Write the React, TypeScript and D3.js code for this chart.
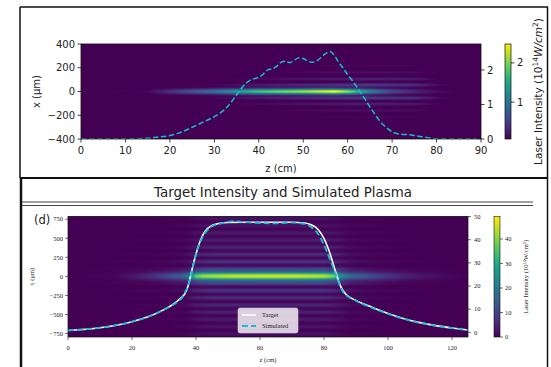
import React, { useEffect, useState } from "react";
import * as d3 from "d3";

const W = 551;
const H = 367;

// ---------- upper panel: laser intensity map with plasma profile ----------
const topZTicks = [0, 10, 20, 30, 40, 50, 60, 70, 80, 90];
const topXTicks = [-400, -200, 0, 200, 400];
const topXTickLabels = ["\u2212400", "\u2212200", "0", "200", "400"];
const topRightTicks = [0, 1, 2];
const topCbarTicks = [1, 2];

// plasma profile (right axis)
const topProfileZ = [0, 5, 10, 13, 15, 17, 20, 22, 25, 28, 30, 32, 33, 34, 35, 36, 37, 38, 40, 41, 42, 43, 44, 45, 46, 47, 48, 49, 50, 51, 52, 53, 54, 55, 56, 57, 58, 59, 60, 61, 62, 63, 64, 65, 66, 67, 68, 69, 70, 71, 72, 74, 75, 76, 78, 80, 85, 89];
const topProfileVal = [0, 0, 0, 0.01, 0.02, 0.05, 0.1, 0.17, 0.34, 0.52, 0.65, 0.82, 0.94, 1.1, 1.28, 1.45, 1.6, 1.7, 1.79, 1.88, 2.0, 2.03, 2.1, 2.22, 2.25, 2.21, 2.28, 2.35, 2.33, 2.26, 2.22, 2.26, 2.36, 2.47, 2.53, 2.42, 2.22, 2.05, 1.86, 1.7, 1.52, 1.33, 1.13, 0.93, 0.74, 0.56, 0.41, 0.3, 0.21, 0.16, 0.14, 0.12, 0.1, 0.08, 0.04, 0.01, 0, 0];

// on-axis laser intensity and side-fringe level (10^14 W/cm^2)
const topCoreZ = [0, 15, 20, 25, 30, 35, 40, 45, 50, 55, 57, 60, 63, 66, 70, 75, 80, 85, 90];
const topCoreI = [0.06, 0.1, 0.4, 0.7, 1.0, 1.4, 1.8, 2.0, 2.15, 2.4, 2.5, 2.1, 1.55, 1.05, 0.6, 0.33, 0.14, 0.07, 0.06];
const topSideZ = [0, 25, 35, 45, 55, 65, 75, 80, 85, 90];
const topSideI = [0, 0.1, 0.5, 0.9, 1.3, 1.6, 1.3, 0.5, 0.1, 0];
const topFringeOffsets = [55, 105, 160, 215, 270, 325, 380];
const topFringeWeights = [0.3, 0.17, 0.1, 0.065, 0.045, 0.03, 0.02];

// ---------- lower panel: target vs simulated plasma ----------
const botZTicks = [0, 20, 40, 60, 80, 100, 120];
const botXTicks = [750, 500, 250, 0, -250, -500, -750];
const botXTickLabels = ["750", "500", "250", "0", "\u2212250", "\u2212500", "\u2212750"];
const botRightTicks = [0, 10, 20, 30, 40, 50];
const botCbarTicks = [0, 10, 20, 30, 40];

const targetZ = [0, 10, 20, 25, 30, 33, 35, 36.5, 37.3, 38, 39, 40, 41, 42, 43, 45, 47, 50, 60, 70, 74, 76, 78, 80, 82, 83, 84, 85, 85.6, 87, 90, 95, 100, 105, 110, 115, 120, 125];
const targetVal = [0.8, 2.0, 4.6, 6.7, 9.8, 12.3, 14.5, 16.6, 19.0, 22.5, 28.5, 33.8, 38.2, 41.6, 43.9, 46.1, 47.0, 47.4, 47.5, 47.5, 47.2, 46.4, 44.6, 40.5, 33.5, 29.0, 24.5, 20.5, 18.8, 16.2, 13.8, 10.8, 8.1, 5.9, 4.2, 2.9, 1.9, 1.0];
const simulatedZ = [0, 10, 20, 25, 30, 33, 35, 36, 36.8, 37.5, 38.5, 39.5, 40.5, 42, 43.5, 45, 48, 52, 55, 60, 65, 70, 74, 76, 78, 80, 82, 84, 85, 86, 88, 90, 95, 100, 105, 110, 115, 120, 125];
const simulatedVal = [0.8, 2.0, 4.6, 6.7, 9.8, 12.0, 14.0, 15.6, 18.0, 19.8, 25.0, 31.0, 36.0, 41.0, 44.0, 45.8, 47.0, 48.0, 47.6, 47.2, 47.0, 47.4, 46.8, 45.4, 42.8, 37.8, 31.0, 23.8, 20.0, 17.3, 15.0, 13.6, 10.6, 8.0, 5.8, 4.1, 2.8, 1.8, 1.0];

const botCoreZ = [0, 15, 20, 25, 30, 35, 37, 38.5, 40, 42, 50, 60, 70, 80, 83, 85, 88, 95, 100, 105, 110, 120, 125];
const botCoreI = [0, 1, 3, 6, 10, 15, 19, 26, 38, 43, 46, 47, 47, 45, 40, 26, 18, 12, 8, 5, 3, 1, 0.5];
const botSideZ = [0, 30, 37, 40, 45, 80, 84, 88, 95, 105, 125];
const botSideI = [0, 3, 8, 22, 30, 30, 22, 10, 5, 2, 0];
const botFringeOffsets = [95, 190, 285, 380, 475, 570, 665, 760];
const botFringeWeights = [0.3, 0.26, 0.22, 0.18, 0.15, 0.12, 0.09, 0.07];

const CYAN = "#17becf";

type Frame = { x0: number; x1: number; y0: number; y1: number };
const topF: Frame = { x0: 81, x1: 481, y0: 44, y1: 139 };
const botF: Frame = { x0: 68, x1: 468, y0: 216.5, y1: 337 };

const topZ = d3.scaleLinear().domain([0, 90]).range([topF.x0, topF.x1]);
const topX = d3.scaleLinear().domain([-400, 400]).range([topF.y1, topF.y0]);
const topR = d3.scaleLinear().domain([0, 2.75]).range([topF.y1, topF.y0]);
const topC = d3.scaleLinear().domain([0.06, 2.48]).range([topF.y1, topF.y0]);

const botZ = d3.scaleLinear().domain([0, 125]).range([botF.x0, botF.x1]);
const botX = d3.scaleLinear().domain([-795, 785]).range([botF.y1, botF.y0]);
const botR = d3.scaleLinear().domain([-2, 50]).range([botF.y1, botF.y0]);
const botC = d3.scaleLinear().domain([0, 49.2]).range([botF.y1, botF.y0]);

type FieldSpec = {
  f: Frame;
  zs: d3.ScaleLinear<number, number>;
  xs: d3.ScaleLinear<number, number>;
  coreZ: number[];
  coreI: number[];
  sideZ: number[];
  sideI: number[];
  coreSigma: number;
  offsets: number[];
  weights: number[];
  fringeSigma: number;
  cmin: number;
  cmax: number;
};

function renderField(s: FieldSpec): string {
  const w = Math.round(s.f.x1 - s.f.x0);
  const h = Math.round(s.f.y1 - s.f.y0);
  const canvas = document.createElement("canvas");
  canvas.width = w;
  canvas.height = h;
  const ctx = canvas.getContext("2d");
  if (!ctx) return "";
  const img = ctx.createImageData(w, h);
  const core = d3.scaleLinear().domain(s.coreZ).range(s.coreI).clamp(true);
  const side = d3.scaleLinear().domain(s.sideZ).range(s.sideI).clamp(true);
  const norm = d3.scaleLinear().domain([s.cmin, s.cmax]).range([0, 1]).clamp(true);
  const rowCore: number[] = [];
  const rowSide: number[] = [];
  for (let j = 0; j < h; j++) {
    const xv = s.xs.invert(s.f.y0 + j + 0.5);
    rowCore.push(Math.exp(-(xv * xv) / (2 * s.coreSigma * s.coreSigma)));
    let fr = 0;
    s.offsets.forEach((o, k) => {
      const d = Math.abs(xv) - o;
      fr += s.weights[k] * Math.exp(-(d * d) / (2 * s.fringeSigma * s.fringeSigma));
    });
    rowSide.push(fr);
  }
  for (let i = 0; i < w; i++) {
    const zv = s.zs.invert(s.f.x0 + i + 0.5);
    const ci = core(zv);
    const si = side(zv);
    for (let j = 0; j < h; j++) {
      const v = ci * rowCore[j] + si * rowSide[j];
      const c = d3.rgb(d3.interpolateViridis(norm(v)));
      const p = (j * w + i) * 4;
      img.data[p] = c.r;
      img.data[p + 1] = c.g;
      img.data[p + 2] = c.b;
      img.data[p + 3] = 255;
    }
  }
  ctx.putImageData(img, 0, 0);
  return canvas.toDataURL();
}

const viridisStops = d3.range(0, 1.0001, 0.05);

export default function App() {
  const [topImg, setTopImg] = useState("");
  const [botImg, setBotImg] = useState("");

  useEffect(() => {
    setTopImg(
      renderField({
        f: topF, zs: topZ, xs: topX,
        coreZ: topCoreZ, coreI: topCoreI, sideZ: topSideZ, sideI: topSideI,
        coreSigma: 16, offsets: topFringeOffsets, weights: topFringeWeights, fringeSigma: 11,
        cmin: 0.06, cmax: 2.48,
      })
    );
    setBotImg(
      renderField({
        f: botF, zs: botZ, xs: botX,
        coreZ: botCoreZ, coreI: botCoreI, sideZ: botSideZ, sideI: botSideI,
        coreSigma: 38, offsets: botFringeOffsets, weights: botFringeWeights, fringeSigma: 20,
        cmin: 0, cmax: 49.2,
      })
    );
  }, []);

  const topLine = d3
    .line<number>()
    .x((_, i) => topZ(topProfileZ[i]))
    .y((v) => topR(v))
    .curve(d3.curveMonotoneX)(topProfileVal) || "";
  const targetLine = d3
    .line<number>()
    .x((_, i) => botZ(targetZ[i]))
    .y((v) => botR(v))
    .curve(d3.curveMonotoneX)(targetVal) || "";
  const simLine = d3
    .line<number>()
    .x((_, i) => botZ(simulatedZ[i]))
    .y((v) => botR(v))
    .curve(d3.curveMonotoneX)(simulatedVal) || "";

  const sans = "DejaVu Sans, sans-serif";
  const serif = "Liberation Serif, DejaVu Serif, serif";
  const ink = "#222";

  const topCb = { x: 505, w: 6 };
  const botCb = { x: 494, w: 6 };

  return (
    <svg width={W} height={H} style={{ position: "absolute", left: 0, top: 0, background: "#fff" }}>
      <defs>
        <linearGradient id="viridisV" x1="0" y1="1" x2="0" y2="0">
          {viridisStops.map((t) => (
            <stop key={t} offset={t} stopColor={d3.interpolateViridis(t)} />
          ))}
        </linearGradient>
        <clipPath id="topClip">
          <rect x={topF.x0} y={topF.y0} width={topF.x1 - topF.x0} height={topF.y1 - topF.y0} />
        </clipPath>
        <clipPath id="botClip">
          <rect x={botF.x0} y={botF.y0} width={botF.x1 - botF.x0} height={botF.y1 - botF.y0} />
        </clipPath>
      </defs>

      {/* page frames */}
      <g stroke="#111" fill="none">
        <line x1={20} y1={7} x2={548} y2={7} strokeWidth={1.5} />
        <line x1={20} y1={7} x2={20} y2={178} strokeWidth={1.5} />
        <line x1={20} y1={178} x2={548} y2={178} strokeWidth={2} />
        <line x1={21} y1={178} x2={21} y2={367} strokeWidth={2.5} />
        <line x1={547.5} y1={7} x2={547.5} y2={367} strokeWidth={1.5} />
        <line x1={22} y1={202} x2={533} y2={202} strokeWidth={1} stroke="#444" />
        <line x1={22} y1={205.5} x2={533} y2={205.5} strokeWidth={1} stroke="#444" />
      </g>

      {/* ===== upper panel ===== */}
      <rect x={topF.x0} y={topF.y0} width={topF.x1 - topF.x0} height={topF.y1 - topF.y0} fill="#440154" />
      {topImg && (
        <image href={topImg} x={topF.x0} y={topF.y0} width={topF.x1 - topF.x0} height={topF.y1 - topF.y0} preserveAspectRatio="none" />
      )}
      <path d={topLine} fill="none" stroke={CYAN} strokeWidth={1.5} strokeDasharray="5.5 2.5" clipPath="url(#topClip)" />
      <rect x={topF.x0} y={topF.y0} width={topF.x1 - topF.x0} height={topF.y1 - topF.y0} fill="none" stroke="#111" strokeWidth={0.8} />

      <g fontFamily={sans} fontSize={10} fill={ink}>
        {topZTicks.map((t) => (
          <g key={t}>
            <line x1={topZ(t)} x2={topZ(t)} y1={topF.y1} y2={topF.y1 + 3.5} stroke="#111" strokeWidth={0.8} />
            <text x={topZ(t)} y={topF.y1 + 15} textAnchor="middle">{t}</text>
          </g>
        ))}
        {topXTicks.map((t, i) => (
          <g key={t}>
            <line x1={topF.x0 - 3.5} x2={topF.x0} y1={topX(t)} y2={topX(t)} stroke="#111" strokeWidth={0.8} />
            <text x={topF.x0 - 6} y={topX(t) + 3.6} textAnchor="end">{topXTickLabels[i]}</text>
          </g>
        ))}
        {topRightTicks.map((t) => (
          <g key={t}>
            <line x1={topF.x1} x2={topF.x1 + 3.5} y1={topR(t)} y2={topR(t)} stroke="#111" strokeWidth={0.8} />
            <text x={topF.x1 + 6} y={topR(t) + 3.6}>{t}</text>
          </g>
        ))}
        <text x={(topF.x0 + topF.x1) / 2} y={172} textAnchor="middle">z (cm)</text>
        <text transform={`translate(40,${(topF.y0 + topF.y1) / 2}) rotate(-90)`} textAnchor="middle">x (μm)</text>

        <rect x={topCb.x} y={topF.y0} width={topCb.w} height={topF.y1 - topF.y0} fill="url(#viridisV)" stroke="#111" strokeWidth={0.7} />
        {topCbarTicks.map((t) => (
          <g key={t}>
            <line x1={topCb.x + topCb.w} x2={topCb.x + topCb.w + 3.5} y1={topC(t)} y2={topC(t)} stroke="#111" strokeWidth={0.8} />
            <text x={topCb.x + topCb.w + 6} y={topC(t) + 3.6}>{t}</text>
          </g>
        ))}
        <text transform={`translate(542,${(topF.y0 + topF.y1) / 2}) rotate(-90)`} textAnchor="middle" fontSize={10.5}>
          Laser Intensity (10
          <tspan fontSize={7.5} dy={-4}>14</tspan>
          <tspan dy={4} fontStyle="italic">W</tspan>
          <tspan fontStyle="italic">/cm</tspan>
          <tspan fontSize={7.5} dy={-4}>2</tspan>
          <tspan dy={4}>)</tspan>
        </text>
      </g>

      {/* ===== lower panel ===== */}
      <text x={283} y={197} textAnchor="middle" fontFamily={sans} fontSize={13.4} fill={ink}>
        Target Intensity and Simulated Plasma
      </text>
      <text x={34} y={224} fontFamily={sans} fontSize={11.5} fill={ink}>(d)</text>

      <rect x={botF.x0} y={botF.y0} width={botF.x1 - botF.x0} height={botF.y1 - botF.y0} fill="#440154" />
      {botImg && (
        <image href={botImg} x={botF.x0} y={botF.y0} width={botF.x1 - botF.x0} height={botF.y1 - botF.y0} preserveAspectRatio="none" />
      )}
      <g clipPath="url(#botClip)" fill="none">
        <path d={targetLine} stroke="#ffffff" strokeWidth={1.6} />
        <path d={simLine} stroke={CYAN} strokeWidth={1.8} strokeDasharray="6 3" />
      </g>
      <rect x={botF.x0} y={botF.y0} width={botF.x1 - botF.x0} height={botF.y1 - botF.y0} fill="none" stroke="#111" strokeWidth={0.7} />

      <g fontFamily={serif} fontSize={6.5} fill={ink}>
        {botZTicks.map((t) => (
          <g key={t}>
            <line x1={botZ(t)} x2={botZ(t)} y1={botF.y1} y2={botF.y1 + 3} stroke="#111" strokeWidth={0.6} />
            <text x={botZ(t)} y={botF.y1 + 13} textAnchor="middle">{t}</text>
          </g>
        ))}
        {botXTicks.map((t, i) => (
          <g key={t}>
            <line x1={botF.x0 - 3} x2={botF.x0} y1={botX(t)} y2={botX(t)} stroke="#111" strokeWidth={0.6} />
            <text x={botF.x0 - 5} y={botX(t) + 2.3} textAnchor="end">{botXTickLabels[i]}</text>
          </g>
        ))}
        {botRightTicks.map((t) => (
          <g key={t}>
            <line x1={botF.x1} x2={botF.x1 + 3} y1={botR(t)} y2={botR(t)} stroke="#111" strokeWidth={0.6} />
            <text x={botF.x1 + 6} y={botR(t) + 2.3}>{t}</text>
          </g>
        ))}
        <text x={(botF.x0 + botF.x1) / 2} y={362} textAnchor="middle">z (cm)</text>
        <text transform={`translate(34,${(botF.y0 + botF.y1) / 2}) rotate(-90)`} textAnchor="middle">x (μm)</text>

        <rect x={botCb.x} y={botF.y0} width={botCb.w} height={botF.y1 - botF.y0} fill="url(#viridisV)" stroke="#111" strokeWidth={0.6} />
        {botCbarTicks.map((t) => (
          <g key={t}>
            <line x1={botCb.x + botCb.w} x2={botCb.x + botCb.w + 3} y1={botC(t)} y2={botC(t)} stroke="#111" strokeWidth={0.6} />
            <text x={botCb.x + botCb.w + 5} y={botC(t) + 2.3}>{t}</text>
          </g>
        ))}
        <text transform={`translate(528,${(botF.y0 + botF.y1) / 2}) rotate(-90)`} textAnchor="middle">
          Laser Intensity (10
          <tspan fontSize={4.5} dy={-2.5}>14</tspan>
          <tspan dy={2.5}>W/cm</tspan>
          <tspan fontSize={4.5} dy={-2.5}>2</tspan>
          <tspan dy={2.5}>)</tspan>
        </text>

        {/* legend */}
        <rect x={238} y={308} width={60} height={25} rx={2} fill="#ffffff" fillOpacity={0.8} stroke="#cccccc" strokeWidth={0.6} />
        <line x1={242} x2={256} y1={315} y2={315} stroke="#ffffff" strokeWidth={1.6} />
        <line x1={242} x2={256} y1={326} y2={326} stroke={CYAN} strokeWidth={1.8} strokeDasharray="6 3" />
        <text x={262} y={317.3}>Target</text>
        <text x={262} y={328.3}>Simulated</text>
      </g>
    </svg>
  );
}
